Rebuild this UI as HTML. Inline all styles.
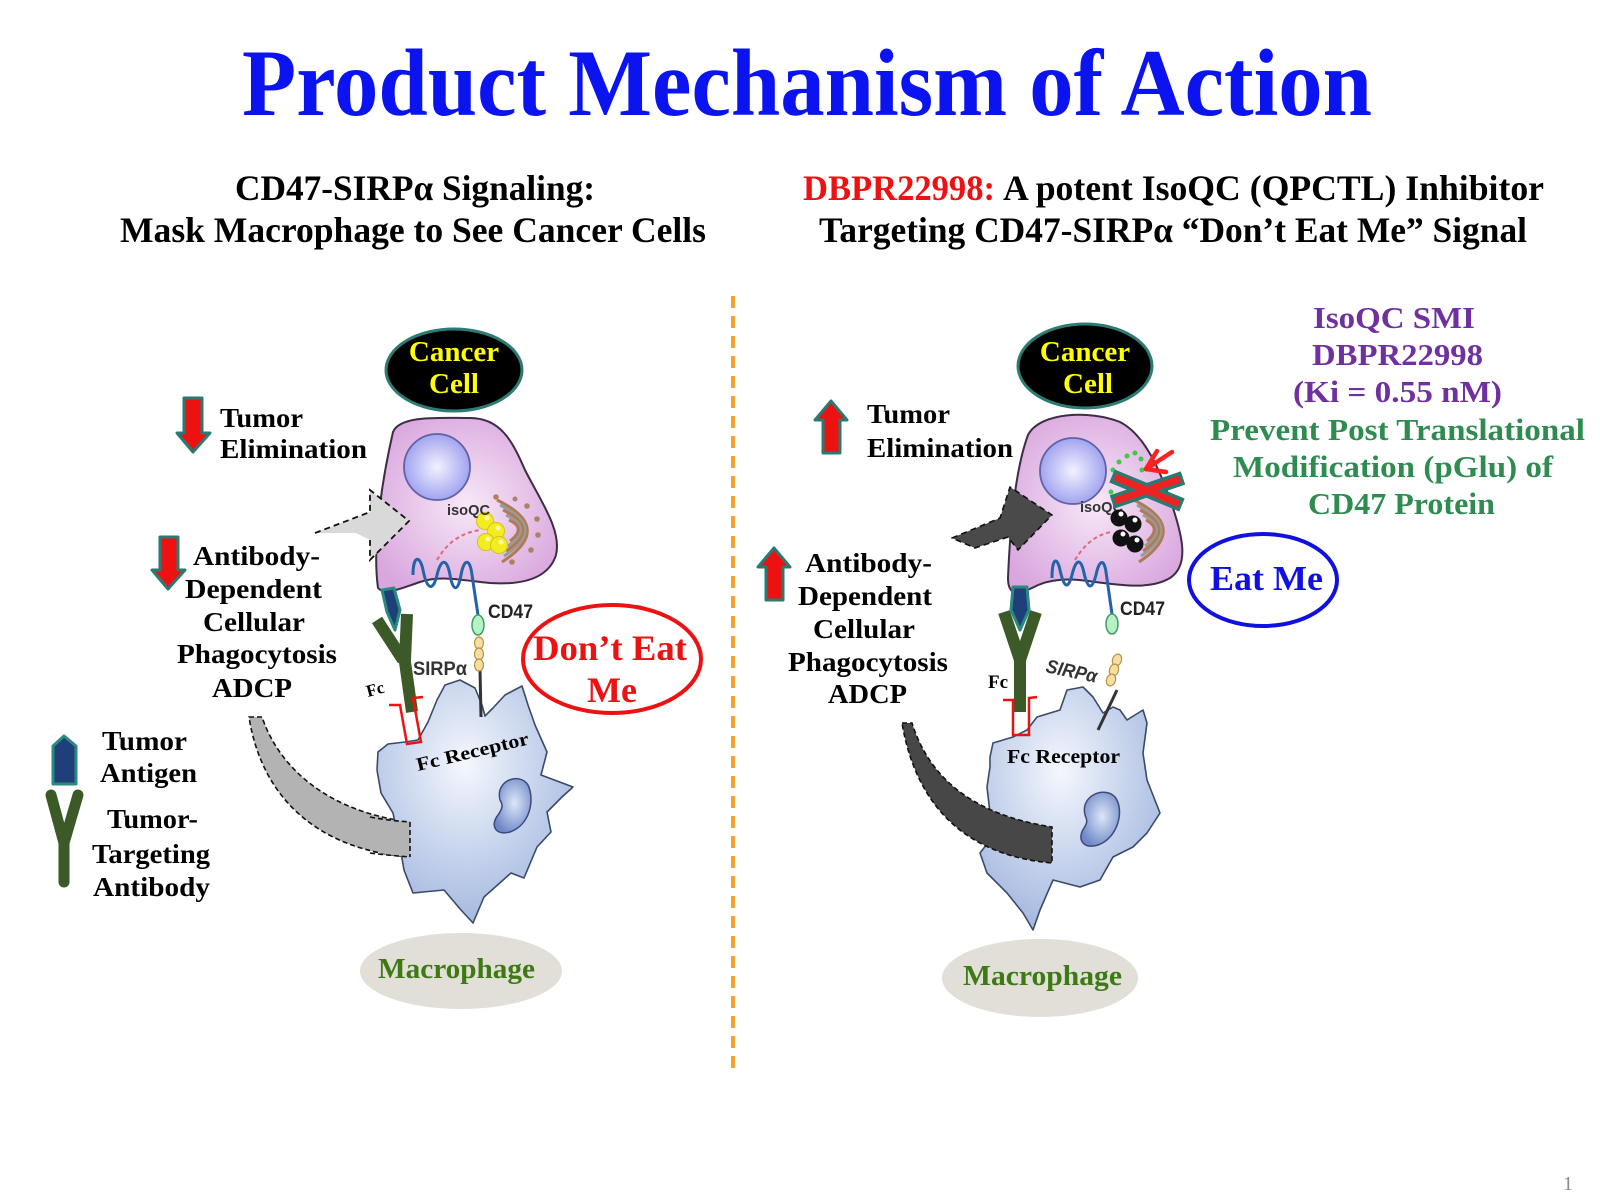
<!DOCTYPE html>
<html>
<head>
<meta charset="utf-8">
<style>
html,body{margin:0;padding:0;background:#fff;}
svg{display:block;}
.s{font-family:"Liberation Serif",serif;font-weight:bold;}
.a{font-family:"Liberation Sans",sans-serif;font-weight:bold;}
</style>
</head>
<body>
<svg width="1600" height="1200" viewBox="0 0 1600 1200" xmlns="http://www.w3.org/2000/svg">
<defs>
  <radialGradient id="cellG" cx="50%" cy="50%" r="60%">
    <stop offset="0" stop-color="#f7e8f7"/>
    <stop offset="1" stop-color="#d9a6de"/>
  </radialGradient>
  <radialGradient id="nucG" cx="50%" cy="50%" r="55%">
    <stop offset="0" stop-color="#f2f2ff"/>
    <stop offset="1" stop-color="#9a9cee"/>
  </radialGradient>
  <radialGradient id="macG" cx="45%" cy="35%" r="65%">
    <stop offset="0" stop-color="#f4f7fd"/>
    <stop offset="1" stop-color="#a5b9e0"/>
  </radialGradient>
  <radialGradient id="mnG" cx="55%" cy="45%" r="60%">
    <stop offset="0" stop-color="#dde6f8"/>
    <stop offset="1" stop-color="#6d88c8"/>
  </radialGradient>
</defs>

<!-- Title -->
<text class="s" x="242" y="115" font-size="95" fill="#0b14f0" textLength="1130" lengthAdjust="spacingAndGlyphs">Product Mechanism of Action</text>

<!-- Sub headings -->
<text class="s" x="235" y="200" font-size="36" fill="#000" textLength="360" lengthAdjust="spacingAndGlyphs">CD47-SIRPα Signaling:</text>
<text class="s" x="120" y="242" font-size="36" fill="#000" textLength="586" lengthAdjust="spacingAndGlyphs">Mask Macrophage to See Cancer Cells</text>
<text class="s" x="803" y="200" font-size="36" fill="#ee1111" textLength="192" lengthAdjust="spacingAndGlyphs">DBPR22998:</text>
<text class="s" x="1003" y="200" font-size="36" fill="#000" textLength="541" lengthAdjust="spacingAndGlyphs">A potent IsoQC (QPCTL) Inhibitor</text>
<text class="s" x="819" y="242" font-size="36" fill="#000" textLength="708" lengthAdjust="spacingAndGlyphs">Targeting CD47-SIRPα “Don’t Eat Me” Signal</text>

<!-- Orange dashed divider -->
<line x1="733" y1="296" x2="733" y2="1073" stroke="#f5a030" stroke-width="4" stroke-dasharray="12,8"/>

<!-- ================= LEFT PANEL ================= -->
<path d="M 249 717 L 262 717 C 280 770, 330 812, 410 822 L 410 857 C 320 850, 262 800, 249 717 Z" fill="#b3b3b3" stroke="#111" stroke-width="1.6" stroke-dasharray="5,3"/>

<!-- Macrophage left -->
<polygon points="378,752 388,744 405,742 418,740 428,722 437,700 445,685 460,680 475,688 482,705 485,716 493,708 505,695 522,686 528,705 535,725 547,752 541,775 573,787 562,797 547,812 551,832 537,847 524,878 511,873 484,897 473,923 461,910 444,890 413,893 404,870 400,847 393,813 381,793 377,770" fill="url(#macG)" stroke="#3a4a6a" stroke-width="1.6" stroke-linejoin="round"/>
<path d="M 500 800 C 495 780, 520 772, 528 785 C 535 800, 530 825, 510 832 C 495 836, 490 825, 498 815 C 503 808, 503 805, 500 800 Z" fill="url(#mnG)" stroke="#3a4a7a" stroke-width="1.5"/>
<path d="M 380 818 C 392 820, 400 821, 410 822 L 410 857 C 398 856, 390 855, 380 853 Z" fill="#b3b3b3"/>
<line x1="410" y1="822" x2="410" y2="857" stroke="#111" stroke-width="1.6" stroke-dasharray="5,3"/>
<path d="M 370 817 C 385 820, 398 821, 410 822" fill="none" stroke="#111" stroke-width="1.6" stroke-dasharray="5,3"/>
<path d="M 370 853 C 385 855, 398 856, 410 857" fill="none" stroke="#111" stroke-width="1.6" stroke-dasharray="5,3"/>

<!-- Cancer cell left -->
<path d="M 393 432 C 400 415, 440 418, 470 418 C 500 418, 512 440, 525 470 C 540 500, 562 530, 556 555 C 548 580, 520 585, 490 583 C 460 580, 440 575, 420 582 C 402 588, 385 596, 378 588 C 372 545, 382 480, 393 432 Z" fill="url(#cellG)" stroke="#3d2d45" stroke-width="2"/>
<circle cx="437" cy="467" r="33" fill="url(#nucG)" stroke="#6062a8" stroke-width="1.8"/>
<!-- golgi left -->
<g fill="none" stroke-width="3">
  <path d="M 497 500 Q 555 528 502 562" stroke="#b07a52"/>
  <path d="M 500 505 Q 548 528 504 556" stroke="#9a9a9a"/>
  <path d="M 503 510 Q 541 528 506 551" stroke="#b07a52"/>
  <path d="M 506 515 Q 534 528 508 546" stroke="#9a9a9a"/>
  <path d="M 509 520 Q 527 528 510 541" stroke="#b07a52"/>
</g>
<g fill="#b08060">
  <circle cx="496" cy="497" r="2.8"/><circle cx="527" cy="506" r="2.8"/><circle cx="537" cy="519" r="2.8"/><circle cx="538" cy="535" r="2.8"/><circle cx="531" cy="550" r="2.8"/><circle cx="512" cy="562" r="2.8"/><circle cx="515" cy="499" r="2.5"/>
</g>
<g fill="#f3ec20" stroke="#d6c418" stroke-width="1">
  <circle cx="485" cy="521" r="8.5"/><circle cx="496" cy="531" r="8.5"/><circle cx="486" cy="542" r="8.5"/><circle cx="499" cy="545" r="8.5"/>
</g>
<g fill="#fbf8b0">
  <circle cx="487" cy="518" r="2.5"/><circle cx="498" cy="528" r="2.5"/><circle cx="488" cy="539" r="2.5"/><circle cx="501" cy="542" r="2.5"/>
</g>
<text class="a" x="447" y="515" font-size="15" fill="#333" textLength="43" lengthAdjust="spacingAndGlyphs">isoQC</text>
<path d="M 437 560 Q 452 534 480 530" fill="none" stroke="#e06878" stroke-width="2" stroke-dasharray="4,3"/>
<!-- CD47 left -->
<path d="M 413 575 C 413 555, 420 555, 423 570 C 427 590, 433 592, 437 575 C 441 558, 447 558, 450 575 C 453 592, 458 592, 461 575 C 464 558, 470 558, 472 575 L 478 615" fill="none" stroke="#2563a8" stroke-width="3"/>
<line x1="480" y1="670" x2="481" y2="717" stroke="#333" stroke-width="3"/>
<g fill="#f5dfa0" stroke="#b89040" stroke-width="1.2">
  <ellipse cx="479" cy="643" rx="4.5" ry="6"/><ellipse cx="479" cy="654" rx="4.5" ry="6"/><ellipse cx="479" cy="665" rx="4.5" ry="6"/>
</g>
<ellipse cx="478" cy="625" rx="6" ry="10" fill="#b8f0c8" stroke="#40a060" stroke-width="1.5"/>
<text class="a" x="488" y="618" font-size="19" fill="#222" textLength="45" lengthAdjust="spacingAndGlyphs">CD47</text>
<text class="a" x="413" y="675" font-size="19" fill="#333" textLength="54" lengthAdjust="spacingAndGlyphs">SIRPα</text>

<!-- Antibody left -->
<g stroke="#3b5a27" stroke-width="12" fill="none" stroke-linecap="butt">
  <line x1="377" y1="620" x2="403" y2="660"/>
  <line x1="407" y1="614" x2="405" y2="660"/>
  <line x1="404" y1="655" x2="412" y2="712"/>
</g>
<polygon points="382,590 394,588 400,610 395,630 387,612" fill="#1f3f7a" stroke="#2a8a80" stroke-width="3" stroke-linejoin="round"/>
<polyline points="389,705 400,705 407,744 421,742 413,698 423,697" fill="none" stroke="#ee1111" stroke-width="2.5"/>
<text class="s" x="368" y="697" font-size="17" fill="#000" transform="rotate(-15 368 697)">Fc</text>
<text class="s" x="418" y="771" font-size="19" fill="#000" transform="rotate(-13.5 418 771)" textLength="115" lengthAdjust="spacingAndGlyphs">Fc Receptor</text>

<!-- light gray arrow -->
<polygon points="315,533 370,512 370,490 409,521 370,560 370,540 356,533" fill="#d9d9d9"/>
<polyline points="315,533 370,512 370,490 409,521 370,560 370,540" fill="none" stroke="#111" stroke-width="1.8" stroke-dasharray="6,4"/>

<!-- Cancer Cell label left -->
<ellipse cx="454" cy="370" rx="68" ry="41" fill="#000" stroke="#2c7c74" stroke-width="3"/>
<text class="s" x="454" y="361" font-size="29" fill="#ffff00" text-anchor="middle">Cancer</text>
<text class="s" x="454" y="393" font-size="29" fill="#ffff00" text-anchor="middle">Cell</text>

<!-- Don't Eat Me -->
<ellipse cx="612" cy="659" rx="89" ry="54" fill="none" stroke="#ee1111" stroke-width="4"/>
<text class="s" x="533" y="660" font-size="36" fill="#ee1111" textLength="154" lengthAdjust="spacingAndGlyphs">Don’t Eat</text>
<text class="s" x="612" y="702" font-size="36" fill="#ee1111" text-anchor="middle">Me</text>

<!-- Macrophage label left -->
<ellipse cx="461" cy="971" rx="101" ry="38" fill="#e2ded8"/>
<text class="s" x="378" y="978" font-size="28" fill="#3d7a14" textLength="157" lengthAdjust="spacingAndGlyphs">Macrophage</text>

<!-- Left arrows -->
<polygon points="184,398 202,398 202,433 210,433 193,452 177,433 184,433" fill="#ee1111" stroke="#2a7a74" stroke-width="3" stroke-linejoin="round"/>
<polygon points="160,537 178,537 178,570 185,570 168,589 152,570 160,570" fill="#ee1111" stroke="#2a7a74" stroke-width="3" stroke-linejoin="round"/>
<text class="s" x="220" y="427" font-size="27" textLength="83" lengthAdjust="spacingAndGlyphs">Tumor</text>
<text class="s" x="220" y="458" font-size="27" textLength="147" lengthAdjust="spacingAndGlyphs">Elimination</text>
<text class="s" x="193" y="565" font-size="27" textLength="127" lengthAdjust="spacingAndGlyphs">Antibody-</text>
<text class="s" x="185" y="598" font-size="27" textLength="137" lengthAdjust="spacingAndGlyphs">Dependent</text>
<text class="s" x="203" y="631" font-size="27" textLength="102" lengthAdjust="spacingAndGlyphs">Cellular</text>
<text class="s" x="177" y="663" font-size="27" textLength="160" lengthAdjust="spacingAndGlyphs">Phagocytosis</text>
<text class="s" x="212" y="697" font-size="27" textLength="80" lengthAdjust="spacingAndGlyphs">ADCP</text>

<!-- Legend -->
<polygon points="64,736 76,746 76,784 53,784 53,746" fill="#1f3f7a" stroke="#2a8a80" stroke-width="3" stroke-linejoin="round"/>
<g stroke="#3b5a27" stroke-width="11" stroke-linecap="round" fill="none">
  <line x1="51" y1="795" x2="64" y2="843"/>
  <line x1="78" y1="795" x2="64" y2="843"/>
  <line x1="64" y1="840" x2="64" y2="882"/>
</g>
<text class="s" x="102" y="750" font-size="27" textLength="85" lengthAdjust="spacingAndGlyphs">Tumor</text>
<text class="s" x="100" y="782" font-size="27" textLength="97" lengthAdjust="spacingAndGlyphs">Antigen</text>
<text class="s" x="107" y="828" font-size="27" textLength="91" lengthAdjust="spacingAndGlyphs">Tumor-</text>
<text class="s" x="92" y="863" font-size="27" textLength="118" lengthAdjust="spacingAndGlyphs">Targeting</text>
<text class="s" x="93" y="896" font-size="27" textLength="117" lengthAdjust="spacingAndGlyphs">Antibody</text>

<!-- ================= RIGHT PANEL ================= -->
<polygon points="990,757 993,743 1013,737 1027,730 1037,717 1060,710 1067,690 1083,687 1093,697 1103,713 1113,707 1120,710 1127,720 1143,710 1147,723 1143,753 1147,780 1160,813 1147,833 1133,847 1113,857 1100,880 1080,887 1053,880 1040,910 1033,930 1023,913 1007,893 987,873 980,853 990,840 990,813 987,787 990,767" fill="url(#macG)" stroke="#3a4a6a" stroke-width="1.6" stroke-linejoin="round"/>
<path d="M 1085 815 C 1080 795, 1105 786, 1115 797 C 1125 810, 1118 838, 1098 845 C 1082 850, 1077 838, 1084 828 C 1088 822, 1087 820, 1085 815 Z" fill="url(#mnG)" stroke="#3a4a7a" stroke-width="1.5"/>
<path d="M 902 723 L 912 723 C 930 780, 975 815, 1052 827 L 1052 863 C 960 855, 915 800, 902 723 Z" fill="#474747" stroke="#111" stroke-width="1.6" stroke-dasharray="5,3"/>

<!-- SIRPa right -->
<line x1="1117" y1="690" x2="1098" y2="730" stroke="#333" stroke-width="3"/>
<g fill="#f5dfa0" stroke="#b89040" stroke-width="1.2">
  <ellipse cx="1117" cy="660" rx="4.5" ry="6" transform="rotate(20 1117 660)"/>
  <ellipse cx="1114" cy="670" rx="4.5" ry="6" transform="rotate(20 1114 670)"/>
  <ellipse cx="1111" cy="680" rx="4.5" ry="6" transform="rotate(20 1111 680)"/>
</g>
<text class="a" x="1045" y="672" font-size="19" font-style="italic" fill="#333" transform="rotate(12 1045 672)" textLength="52" lengthAdjust="spacingAndGlyphs">SIRPα</text>

<!-- Cancer cell right -->
<path d="M 1028 435 C 1040 412, 1090 410, 1120 422 C 1145 435, 1160 470, 1172 505 C 1182 535, 1190 565, 1170 578 C 1150 590, 1120 585, 1095 582 C 1070 578, 1050 578, 1032 588 C 1018 595, 1008 596, 1008 578 C 1010 530, 1015 470, 1028 435 Z" fill="url(#cellG)" stroke="#3d2d45" stroke-width="2"/>
<circle cx="1073" cy="471" r="33" fill="url(#nucG)" stroke="#6062a8" stroke-width="1.8"/>
<g fill="none" stroke-width="3">
  <path d="M 1134 500 Q 1190 528 1139 562" stroke="#b07a52"/>
  <path d="M 1137 505 Q 1183 528 1141 556" stroke="#9a9a9a"/>
  <path d="M 1140 510 Q 1176 528 1143 551" stroke="#b07a52"/>
  <path d="M 1143 515 Q 1169 528 1145 546" stroke="#9a9a9a"/>
  <path d="M 1146 520 Q 1162 528 1147 541" stroke="#b07a52"/>
</g>
<text class="a" x="1080" y="512" font-size="15" fill="#333" textLength="43" lengthAdjust="spacingAndGlyphs">isoQC</text>
<g fill="#111">
  <circle cx="1119" cy="518" r="8.5"/><circle cx="1133" cy="524" r="8.5"/><circle cx="1121" cy="538" r="8.5"/><circle cx="1135" cy="544" r="8.5"/>
</g>
<g fill="#fff">
  <circle cx="1121" cy="514" r="2.5"/><circle cx="1135" cy="520" r="2.5"/><circle cx="1123" cy="534" r="2.5"/><circle cx="1137" cy="540" r="2.5"/>
</g>
<path d="M 1075 560 Q 1090 535 1112 532" fill="none" stroke="#e06878" stroke-width="2" stroke-dasharray="4,3"/>
<!-- CD47 right -->
<path d="M 1052 578 C 1052 558, 1057 556, 1060 570 C 1064 588, 1068 590, 1072 575 C 1076 558, 1081 558, 1084 573 C 1088 590, 1092 590, 1096 575 C 1099 560, 1104 558, 1106 572 L 1112 614" fill="none" stroke="#2563a8" stroke-width="3"/>
<ellipse cx="1112" cy="624" rx="6" ry="10" fill="#b8f0c8" stroke="#40a060" stroke-width="1.5"/>
<text class="a" x="1120" y="615" font-size="19" fill="#222" textLength="45" lengthAdjust="spacingAndGlyphs">CD47</text>
<g fill="#3ccc44">
  <circle cx="1113" cy="470" r="2.5"/><circle cx="1119" cy="462" r="2.5"/><circle cx="1127" cy="456" r="2.5"/><circle cx="1135" cy="453" r="2.5"/><circle cx="1141" cy="459" r="2.5"/><circle cx="1118" cy="479" r="2.5"/><circle cx="1126" cy="485" r="2.5"/><circle cx="1134" cy="489" r="2.5"/><circle cx="1111" cy="492" r="2.5"/><circle cx="1119" cy="497" r="2.5"/><circle cx="1142" cy="470" r="2.5"/>
</g>
<g stroke="#ff2020" stroke-width="4.5" fill="none" stroke-linecap="round">
  <line x1="1172" y1="452" x2="1146" y2="469"/>
  <line x1="1146" y1="469" x2="1157" y2="451"/>
  <line x1="1146" y1="469" x2="1166" y2="472"/>
</g>
<g stroke-linecap="butt">
  <line x1="1112" y1="476" x2="1182" y2="505" stroke="#2a7a74" stroke-width="14"/>
  <line x1="1112" y1="502" x2="1183" y2="478" stroke="#2a7a74" stroke-width="14"/>
  <line x1="1115" y1="477" x2="1179" y2="504" stroke="#ee2222" stroke-width="7"/>
  <line x1="1115" y1="501" x2="1180" y2="479" stroke="#ee2222" stroke-width="7"/>
</g>

<!-- Antibody right -->
<g stroke="#3b5a27" stroke-width="12" fill="none" stroke-linecap="butt">
  <line x1="1004" y1="612" x2="1020" y2="660"/>
  <line x1="1036" y1="612" x2="1020" y2="660"/>
  <line x1="1020" y1="655" x2="1020" y2="712"/>
</g>
<polygon points="1013,587 1027,587 1029,610 1020,630 1011,610" fill="#1f3f7a" stroke="#2a8a80" stroke-width="3" stroke-linejoin="round"/>
<polyline points="1003,700 1013,700 1013,735 1029,735 1029,698 1037,697" fill="none" stroke="#ee1111" stroke-width="2.5"/>
<text class="s" x="988" y="688" font-size="19" fill="#000">Fc</text>
<text class="s" x="1007" y="763" font-size="20" fill="#000" textLength="113" lengthAdjust="spacingAndGlyphs">Fc Receptor</text>

<!-- dark arrow -->
<polygon points="952,538 1000,518 1010,487 1052,515 1018,550 1008,537 975,548" fill="#4a4a4a" stroke="#111" stroke-width="1.6" stroke-dasharray="6,4" stroke-linejoin="round"/>

<!-- Cancer Cell label right -->
<ellipse cx="1085" cy="366" rx="67" ry="42" fill="#000" stroke="#2c7c74" stroke-width="3"/>
<text class="s" x="1085" y="361" font-size="29" fill="#ffff00" text-anchor="middle">Cancer</text>
<text class="s" x="1088" y="393" font-size="29" fill="#ffff00" text-anchor="middle">Cell</text>

<!-- Eat Me -->
<ellipse cx="1263" cy="580" rx="74" ry="46" fill="none" stroke="#1010e0" stroke-width="4"/>
<text class="s" x="1210" y="590" font-size="35" fill="#1010e0" textLength="113" lengthAdjust="spacingAndGlyphs">Eat Me</text>

<!-- Macrophage label right -->
<ellipse cx="1040" cy="978" rx="98" ry="39" fill="#e2ded8"/>
<text class="s" x="963" y="985" font-size="28" fill="#3d7a14" textLength="159" lengthAdjust="spacingAndGlyphs">Macrophage</text>

<!-- Right arrows -->
<polygon points="823,453 840,453 840,420 847,420 831,401 815,420 823,420" fill="#ee1111" stroke="#2a7a74" stroke-width="3" stroke-linejoin="round"/>
<polygon points="766,600 783,600 783,567 790,567 774,548 758,567 766,567" fill="#ee1111" stroke="#2a7a74" stroke-width="3" stroke-linejoin="round"/>
<text class="s" x="867" y="423" font-size="27" textLength="83" lengthAdjust="spacingAndGlyphs">Tumor</text>
<text class="s" x="867" y="457" font-size="27" textLength="146" lengthAdjust="spacingAndGlyphs">Elimination</text>
<text class="s" x="805" y="572" font-size="27" textLength="127" lengthAdjust="spacingAndGlyphs">Antibody-</text>
<text class="s" x="798" y="605" font-size="27" textLength="134" lengthAdjust="spacingAndGlyphs">Dependent</text>
<text class="s" x="813" y="638" font-size="27" textLength="102" lengthAdjust="spacingAndGlyphs">Cellular</text>
<text class="s" x="788" y="671" font-size="27" textLength="160" lengthAdjust="spacingAndGlyphs">Phagocytosis</text>
<text class="s" x="828" y="703" font-size="27" textLength="79" lengthAdjust="spacingAndGlyphs">ADCP</text>

<!-- Right info text -->
<text class="s" x="1313" y="328" font-size="31" fill="#7030a0" textLength="162" lengthAdjust="spacingAndGlyphs">IsoQC SMI</text>
<text class="s" x="1312" y="365" font-size="31" fill="#7030a0" textLength="171" lengthAdjust="spacingAndGlyphs">DBPR22998</text>
<text class="s" x="1293" y="402" font-size="31" fill="#7030a0" textLength="209" lengthAdjust="spacingAndGlyphs">(Ki = 0.55 nM)</text>
<text class="s" x="1210" y="440" font-size="31" fill="#2f8c50" textLength="375" lengthAdjust="spacingAndGlyphs">Prevent Post Translational</text>
<text class="s" x="1233" y="477" font-size="31" fill="#2f8c50" textLength="320" lengthAdjust="spacingAndGlyphs">Modification (pGlu) of</text>
<text class="s" x="1308" y="514" font-size="31" fill="#2f8c50" textLength="187" lengthAdjust="spacingAndGlyphs">CD47 Protein</text>

<text x="1563" y="1190" font-family="Liberation Serif, serif" font-size="20" fill="#888">1</text>
</svg>
</body>
</html>
